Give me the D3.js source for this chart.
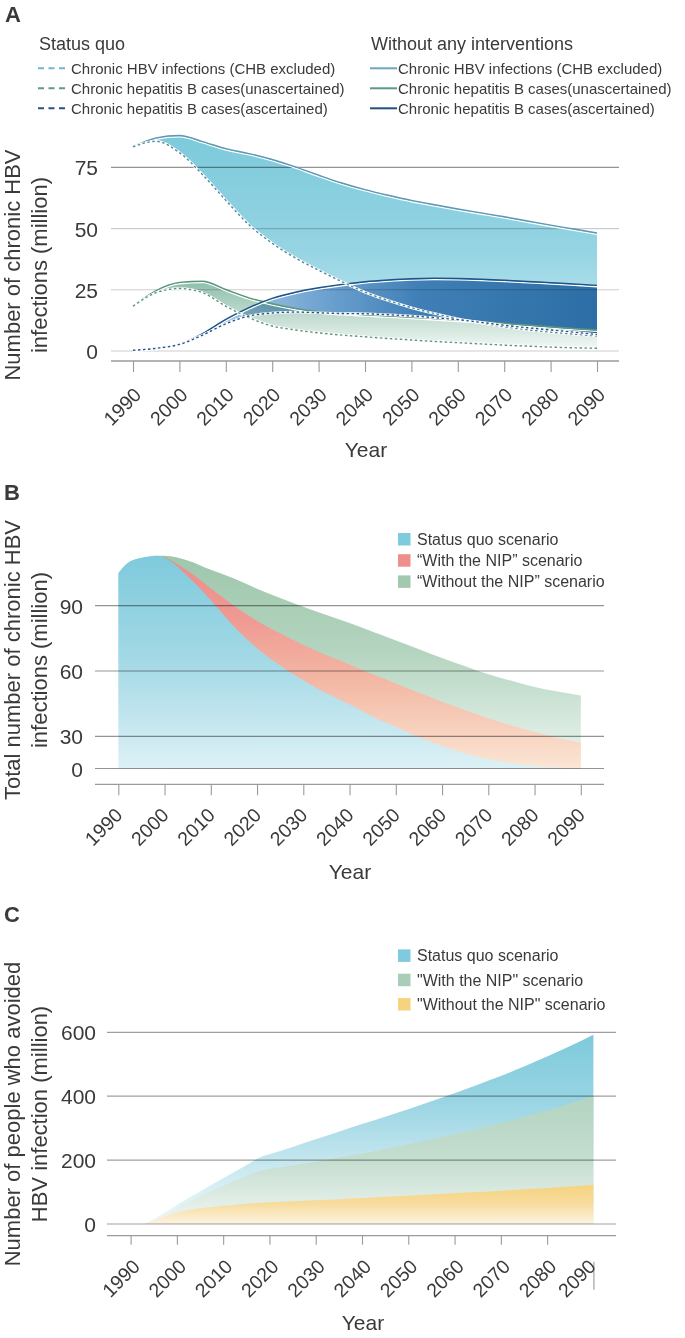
<!DOCTYPE html>
<html><head><meta charset="utf-8">
<script src="https://cdn.jsdelivr.net/npm/d3@7"></script>
<style>
body{margin:0;background:#fff}
svg{display:block}
text{font-family:"Liberation Sans",Arial,Helvetica,sans-serif;fill:#3a3a3a}
</style></head>
<body><svg id="c" width="685" height="1338"></svg>
<script>
// ---------------- DATA ----------------
const yearTicks = [1990,2000,2010,2020,2030,2040,2050,2060,2070,2080,2090];

// Panel A (million)
const yearsA = [1990,1995,2000,2005,2010,2015,2020,2025,2030,2035,2040,2045,2050,2055,2060,2065,2070,2075,2080,2085,2090];
const aWithoutHBV   = [83.4,87,88,85.5,82.6,80.6,78.2,75.2,71.8,68.6,65.9,63.6,61.5,59.7,58,56.4,54.8,53.1,51.4,49.8,48.2];
const aStatusHBV    = [83.4,85.6,81,72,61.5,51.5,44,38,33,28.3,24,20.6,17.7,15.3,13.2,11.4,9.9,8.7,7.7,6.9,6.1];
const aWithoutUnasc = [18.3,24.7,28,28.5,25.1,21.7,19.3,17.4,16,15.3,14.8,14.3,13.8,13.2,12.6,12,11.3,10.6,9.9,9.2,8.6];
const aStatusUnasc  = [18.3,23.8,25.5,23.8,18.3,13.6,10.2,8.6,7.4,6.5,5.8,5.1,4.5,3.9,3.4,2.9,2.4,2,1.6,1.3,1.1];
const aWithoutAsc   = [0.3,1.1,2.7,7.1,12.9,17.7,21.5,24,25.8,27.2,28.3,29,29.5,29.7,29.6,29.3,28.9,28.4,27.9,27.4,26.8];
const aStatusAsc    = [0.3,1.1,2.7,6.5,11.1,14.3,15.5,15.9,15.6,15.3,15.2,14.8,14.3,13.6,12.8,11.7,10.5,9.5,8.6,7.7,6.7];
const ticksA = [0,25,50,75];
const legendAGroups = ["Status quo","Without any interventions"];
const legendALabels = ["Chronic HBV infections (CHB excluded)","Chronic hepatitis B cases(unascertained)","Chronic hepatitis B cases(ascertained)"];

// Panel B (million)
const yearsBStatus = [1990,1992,1995,1998,2000,2005,2010,2015,2020,2025,2030,2035,2040,2045,2050,2055,2060,2065,2070,2075,2080,2085,2090];
const bStatusQuo   = [105,109.6,112,113,112,103.5,92.5,80.5,70.5,62.5,55.7,49.8,44.7,39,34.4,29,21,14,8.6,4.9,2.4,0.9,0];
const yearsBWith   = [2000,2005,2010,2015,2020,2025,2030,2035,2040,2045,2050,2055,2060,2065,2070,2075,2080,2085,2090];
const bWithNIP     = [112.5,106,98,90,83,77.3,72,67.2,63,58.5,54.3,50,45.9,42,38.3,35,32.1,28.5,24.2];
const yearsBWithout= [1998,2000,2005,2010,2015,2020,2025,2030,2035,2040,2045,2050,2055,2060,2065,2070,2075,2080,2085,2090];
const bWithoutNIP  = [113,113,110.8,106.5,102.5,97.8,93.5,89.5,85.7,82,78,74,70,66,62.2,58.5,55.5,52.7,50.6,48.8];
const ticksB = [0,30,60,90];
const legendBLabels = ["Status quo scenario","\u201CWith the NIP\u201D scenario","\u201CWithout the NIP\u201D scenario"];

// Panel C (million)
const yearsC     = [1993,1996,2000,2005,2010,2015,2018,2020,2025,2030,2035,2040,2045,2050,2055,2060,2065,2070,2075,2080,2085,2090];
const cStatusQuo = [0,24,60.5,102,143,184,209,218,241,265,289,313,336,359,384,409,436,463,493,524,557,592];
const cWithNIP   = [0,18,52,88,120,150,167,172,183,195,208,221,235,249,265,281,298,315,335,355,378,401];
const cWithoutNIP= [0,17,36,49,57.4,63.7,66.8,68,71,74,77.5,81,85,88.7,92.5,96.3,100,104,108.5,113,117.5,122];
const ticksC = [0,200,400,600];
const legendCLabels = ["Status quo scenario","\"With the NIP\" scenario","\"Without the NIP\" scenario"];

// ---------------- HELPERS ----------------
const svg = d3.select("#c");
const defs = svg.append("defs");
function grad(id, x1, y1, x2, y2, stops){
  const g = defs.append("linearGradient").attr("id", id).attr("gradientUnits","userSpaceOnUse")
    .attr("x1",x1).attr("y1",y1).attr("x2",x2).attr("y2",y2);
  stops.forEach(s => g.append("stop").attr("offset", s[0]).attr("stop-color", s[1]));
  return `url(#${id})`;
}
function grid(y, ticks, left, right, opac){
  svg.append("g").selectAll("line").data(ticks).join("line")
    .attr("x1",left).attr("x2",right).attr("y1",d=>y(d)).attr("y2",d=>y(d))
    .attr("stroke","#000").attr("stroke-opacity",d=>typeof opac==="function"?opac(d):opac).attr("stroke-width",1.2);
}
function yLabels(y, ticks, xRight){
  const g = svg.append("g").attr("transform",`translate(${xRight},0)`)
    .call(d3.axisLeft(y).tickValues(ticks).tickSize(0).tickPadding(0));
  g.select(".domain").remove();
  g.attr("font-size",21).attr("font-family",null);
  g.selectAll("text").attr("fill","#444").attr("dy","0.36em");
}
function xAxis(x, y0, left, right, tickLen, dx, dy, special){
  const g = svg.append("g").attr("transform",`translate(0,${y0})`);
  g.append("line").attr("x1",left).attr("x2",right).attr("stroke","#9a9a9a").attr("stroke-width",1.3);
  const ag = g.append("g").call(d3.axisBottom(x).tickValues(yearTicks).tickFormat(d3.format("d")).tickSize(tickLen).tickSizeOuter(0));
  ag.select(".domain").remove();
  ag.attr("font-size",19.5).attr("font-family",null);
  ag.selectAll(".tick line").attr("stroke","#9a9a9a").attr("stroke-width",1.1);
  ag.selectAll(".tick text").attr("y",null).attr("dy",null).attr("fill","#444")
    .attr("text-anchor","end")
    .attr("transform",`translate(${dx},${dy}) rotate(-45)`);
  if (special) special(ag);
}
function yTitle(lines, cy){
  lines.forEach((t,i)=>{
    svg.append("text").attr("transform",`translate(${i===0?20:47},${cy}) rotate(-90)`)
      .attr("text-anchor","middle").attr("font-size",22).text(t);
  });
}
function label(t, x, y){
  svg.append("text").attr("x",x).attr("y",y).attr("font-size",22).attr("font-weight","bold").attr("fill","#333").text(t);
}
function xTitle(cx, y){
  svg.append("text").attr("x",cx).attr("y",y).attr("text-anchor","middle").attr("font-size",21).text("Year");
}

// ---------------- PANEL A ----------------
(function(){
  const x = d3.scaleLinear().domain([1990,2090]).range([133,597]);
  const y = d3.scaleLinear().domain([0,75]).range([351,167.3]);
  const rows = yearsA.map((yr,i)=>({yr, woH:aWithoutHBV[i], sqH:aStatusHBV[i], woU:aWithoutUnasc[i], sqU:aStatusUnasc[i], woA:aWithoutAsc[i], sqA:aStatusAsc[i]}));
  const band = (lo,hi)=>d3.area().x(d=>x(d.yr)).y0(d=>y(d[lo])).y1(d=>y(d[hi])).curve(d3.curveMonotoneX);
  const line = k=>d3.line().x(d=>x(d.yr)).y(d=>y(d[k])).curve(d3.curveMonotoneX);

  const gH = grad("gAH",0,y(88),0,y(10),[[0,"#7ccadb"],[0.6,"#95d4e3"],[1,"#bde6ef"]]);
  const gB = grad("gAB",x(2005),0,x(2090),0,[[0,"#b2d0ea"],[0.3,"#6fa3d1"],[0.55,"#3f7fb6"],[1,"#2c6ea5"]]);
  const gG = grad("gAG",0,y(29),0,y(0),[[0,"#8cbdaa"],[0.5,"#c0dbcf"],[1,"#f6faf8"]]);

  svg.append("path").datum(rows).attr("d",band("sqH","woH")).attr("fill",gH);
  svg.append("path").datum(rows).attr("d",band("sqA","woA")).attr("fill",gB);
  svg.append("path").datum(rows).attr("d",band("sqU","woU")).attr("fill",gG).style("mix-blend-mode","multiply");

  grid(y, ticksA, 111, 619, d=>d===75?0.42:0.2);
  yLabels(y, ticksA, 98);

  const solid = (k,c)=>{
    svg.append("path").datum(rows).attr("d",line(k)).attr("fill","none").attr("stroke","#fff").attr("stroke-width",1.3).attr("transform","translate(0,1.4)");
    svg.append("path").datum(rows).attr("d",line(k)).attr("fill","none").attr("stroke",c).attr("stroke-width",1.4);
  };
  const dashed = (k,c)=>{
    svg.append("path").datum(rows).attr("d",line(k)).attr("fill","none").attr("stroke","#fff").attr("stroke-width",2.6);
    svg.append("path").datum(rows).attr("d",line(k)).attr("fill","none").attr("stroke",c).attr("stroke-width",1.4).attr("stroke-dasharray","2.5,2.5");
  };
  solid("woH","#5e98b2");
  solid("woU","#5a977c");
  solid("woA","#1f5487");
  dashed("sqH","#55879f");
  dashed("sqU","#5e957f");
  dashed("sqA","#24548a");

  xAxis(x, 361, 111, 619, 11, 9, 35);
  xTitle(366, 457);
  yTitle(["Number of chronic HBV","infections (million)"], 265);
  label("A", 5, 22);

  // legend
  const lx = [38, 370], tx = [71, 398];
  const cols = [["#72b5cc","#5e9d84","#27537f"],["#6aa7c1","#5d9a80","#244f7c"]];
  legendAGroups.forEach((g,j)=>{
    svg.append("text").attr("x",lx[j]+1).attr("y",50).attr("font-size",18).attr("fill","#333").text(g);
    legendALabels.forEach((t,i)=>{
      const cy = 68.3 + i*20;
      svg.append("line").attr("x1",lx[j]).attr("x2",lx[j]+27).attr("y1",cy).attr("y2",cy)
        .attr("stroke",cols[j][i]).attr("stroke-width",2).attr("stroke-dasharray", j===0?"6,4.5":null);
      svg.append("text").attr("x",tx[j]).attr("y",cy+5.2).attr("font-size",15).attr("fill","#3a3a3a").text(t);
    });
  });
})();

// ---------------- PANEL B ----------------
(function(){
  const x = d3.scaleLinear().domain([1990,2090]).range([118.3,580.8]);
  const y = d3.scaleLinear().domain([0,30,90]).range([768.5,736.3,605.7]);
  const area = (yrs, vals)=>d3.area().x((d,i)=>x(yrs[i])).y0(y(0)).y1((d,i)=>y(vals[i])).curve(d3.curveMonotoneX)(vals);

  const gG = grad("gBG",0,y(113),0,y(0),[[0,"#9ec7ac"],[0.45,"#b4d4bf"],[0.8,"#d8eadf"],[1,"#eef6f1"]]);
  const gR = grad("gBR",0,y(113),0,y(0),[[0,"#ee8c8a"],[0.3,"#ef9a93"],[0.6,"#f3b9a5"],[1,"#fbe6d4"]]);
  const gS = grad("gBS",0,y(113),0,y(0),[[0,"#7ecadc"],[0.5,"#a4d9e6"],[1,"#ddf1f6"]]);

  svg.append("path").attr("d",area(yearsBWithout,bWithoutNIP)).attr("fill",gG);
  svg.append("path").attr("d",area(yearsBWith,bWithNIP)).attr("fill",gR);
  svg.append("path").attr("d",area(yearsBStatus,bStatusQuo)).attr("fill",gS);

  grid(y, ticksB, 95, 604, 0.42);
  yLabels(y, ticksB, 83);
  xAxis(x, 784.3, 95, 604, 11, 5, 32);
  xTitle(350, 879);
  yTitle(["Total number of chronic HBV","infections (million)"], 660);
  label("B", 4, 500);

  const colors = ["#7ecbdd","#ee8f8c","#a3c8b0"];
  legendBLabels.forEach((t,i)=>{
    const cy = 539.3 + i*21.2;
    svg.append("rect").attr("x",398).attr("y",cy-6.3).attr("width",12.5).attr("height",12.5).attr("fill",colors[i]);
    svg.append("text").attr("x",417).attr("y",cy+5.6).attr("font-size",16).attr("fill","#3a3a3a").text(t);
  });
})();

// ---------------- PANEL C ----------------
(function(){
  const x = d3.scaleLinear().domain([1990,2090]).range([130.6,593.4]);
  const y = d3.scaleLinear().domain([0,600]).range([1224,1032.3]);
  const area = vals=>d3.area().x((d,i)=>x(yearsC[i])).y0(y(0)).y1(d=>y(d)).curve(d3.curveMonotoneX)(vals);

  const gS = grad("gCS",0,y(600),0,y(0),[[0,"#7ccadb"],[0.35,"#98d4e3"],[0.68,"#c6e7ef"],[1,"#f0f9fb"]]);
  const gG = grad("gCG",0,y(400),0,y(0),[[0,"#b4d4c1"],[0.5,"#c4ddcf"],[1,"#f0f7f3"]]);
  const gY = grad("gCY",0,y(125),0,y(0),[[0,"#f5d27c"],[0.5,"#f7dc9e"],[1,"#fdf3e2"]]);

  svg.append("path").attr("d",area(cStatusQuo)).attr("fill",gS);
  svg.append("path").attr("d",area(cWithNIP)).attr("fill",gG);
  svg.append("path").attr("d",area(cWithoutNIP)).attr("fill",gY);

  grid(y, ticksC, 107, 616, 0.38);
  yLabels(y, ticksC, 96);
  xAxis(x, 1235.7, 107, 616, 9, 10, 32, ag=>{
    const last = ag.selectAll(".tick").filter(d=>d===2090);
    last.select("line").attr("y1",26).attr("y2",54);
    last.select("text").attr("transform",`translate(3,32) rotate(-45)`);
  });
  xTitle(363, 1330);
  yTitle(["Number of people who avoided","HBV infection (million)"], 1114);
  label("C", 4, 922);

  const colors = ["#7ecbdd","#a9cdb8","#f6d37f"];
  legendCLabels.forEach((t,i)=>{
    const cy = 955.7 + i*24.3;
    svg.append("rect").attr("x",398).attr("y",cy-6.3).attr("width",12.5).attr("height",12.5).attr("fill",colors[i]);
    svg.append("text").attr("x",417).attr("y",cy+5.6).attr("font-size",16).attr("fill","#3a3a3a").text(t);
  });
})();
</script>
</body></html>
